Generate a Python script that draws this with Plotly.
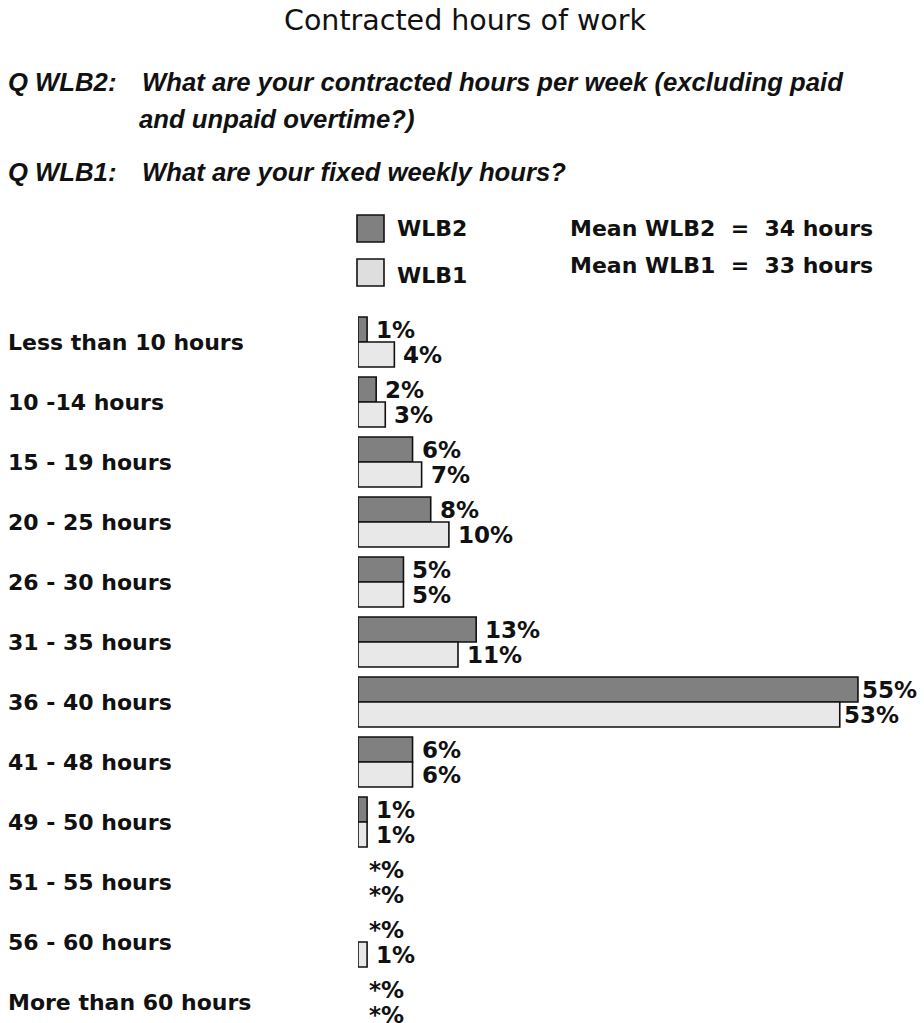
import plotly.graph_objects as go

# ---------------- data ----------------
categories = [
    "Less than 10 hours", "10 -14 hours", "15 - 19 hours", "20 - 25 hours",
    "26 - 30 hours", "31 - 35 hours", "36 - 40 hours", "41 - 48 hours",
    "49 - 50 hours", "51 - 55 hours", "56 - 60 hours", "More than 60 hours",
]
wlb2_values = [1, 2, 6, 8, 5, 13, 55, 6, 1, 0, 0, 0]
wlb1_values = [4, 3, 7, 10, 5, 11, 53, 6, 1, 0, 1, 0]
wlb2_labels = ["1%", "2%", "6%", "8%", "5%", "13%", "55%", "6%", "1%", "*%", "*%", "*%"]
wlb1_labels = ["4%", "3%", "7%", "10%", "5%", "11%", "53%", "6%", "1%", "*%", "1%", "*%"]
series_names = ["WLB2", "WLB1"]
mean_texts = ["Mean WLB2  =  34 hours", "Mean WLB1  =  33 hours"]
title_text = "Contracted hours of work"

# ---------------- geometry ----------------
OFF = 0  # body margin is reset to 0 by the post script below
FIG_W, FIG_H = 924 - OFF, 1023 - OFF
L, T, R, B = 358 - OFF, 312 - OFF, 0, 0
PW = FIG_W - L - R
PH = FIG_H - T - B
PX_PER_PCT = 9.09
ROW_PX = 60

def px_x(px):
    return (px - OFF - L) / PW

def px_y(py):
    return (FIG_H - B - (py - OFF)) / PH

DARK = "#808080"
LIGHT = "#e8e8e8"
EDGE = "#111111"
BOLD = "DejaVu Sans"

# bars of "*%" (< 0.5 %) are not drawn
wlb2_bars = [v if v > 0 else None for v in wlb2_values]
wlb1_bars = [v if v > 0 else None for v in wlb1_values]

fig = go.Figure()
fig.add_trace(go.Bar(
    y=categories, x=wlb2_bars, orientation="h", name=series_names[0],
    marker=dict(color=DARK, line=dict(color=EDGE, width=1.6)),
    showlegend=False, hoverinfo="skip",
))
fig.add_trace(go.Bar(
    y=categories, x=wlb1_bars, orientation="h", name=series_names[1],
    marker=dict(color=LIGHT, line=dict(color=EDGE, width=1.6)),
    showlegend=False, hoverinfo="skip",
))

annotations = []
bar_half = (1 - 1 / 6) / 4  # centre offset of each bar within a group
for i, cat in enumerate(categories):
    for vals, labs, off in ((wlb2_values, wlb2_labels, -bar_half),
                            (wlb1_values, wlb1_labels, bar_half)):
        shift = 9 if vals[i] == 0 else (2 if vals[i] > 50 else 7)
        annotations.append(dict(
            x=vals[i], y=i + off, xref="x", yref="y", text=labs[i],
            xanchor="left", yanchor="middle", xshift=shift,
            showarrow=False,
            font=dict(family=BOLD, size=23, color="#111111", weight="bold"),
        ))
    annotations.append(dict(
        x=px_x(6), y=cat, xref="paper", yref="y", text=cat,
        xanchor="left", yanchor="middle", showarrow=False,
        font=dict(family=BOLD, size=22, color="#111111", weight="bold"),
    ))

# title
annotations.append(dict(
    x=px_x(465), y=px_y(21), xref="paper", yref="paper", text=title_text,
    xanchor="center", yanchor="middle", showarrow=False,
    font=dict(family="DejaVu Sans", size=28.5, color="#111111"),
))

# questions
qfont = dict(family="Liberation Sans", size=25.7, color="#111111", weight="bold", style="italic")
q_items = [
    (6, 82, "Q WLB2:"),
    (140, 82, "What are your contracted hours per week (excluding paid"),
    (137, 119, "and unpaid overtime?)"),
    (6, 172, "Q WLB1:"),
    (140, 172, "What are your fixed weekly hours?"),
]
for x0, y0, txt in q_items:
    annotations.append(dict(
        x=px_x(x0), y=px_y(y0), xref="paper", yref="paper", text=txt,
        xanchor="left", yanchor="middle", showarrow=False, font=qfont,
    ))

# legend
shapes = []
legend_rows = [(215, 242, DARK, series_names[0], 229), (259, 286, "#dedede", series_names[1], 276)]
for y_top, y_bot, col, name, yc in legend_rows:
    shapes.append(dict(
        type="rect", xref="paper", yref="paper",
        x0=px_x(357), x1=px_x(384), y0=px_y(y_bot), y1=px_y(y_top),
        fillcolor=col, line=dict(color=EDGE, width=1.6),
    ))
    annotations.append(dict(
        x=px_x(395), y=px_y(yc), xref="paper", yref="paper", text=name,
        xanchor="left", yanchor="middle", showarrow=False,
        font=dict(family=BOLD, size=22, color="#111111", weight="bold"),
    ))
for txt, yc in zip(mean_texts, (228, 265)):
    annotations.append(dict(
        x=px_x(568), y=px_y(yc), xref="paper", yref="paper", text=txt,
        xanchor="left", yanchor="middle", showarrow=False,
        font=dict(family=BOLD, size=22, color="#111111", weight="bold"),
    ))

fig.update_layout(
    width=FIG_W, height=FIG_H,
    margin=dict(l=L, r=R, t=T, b=B, pad=0),
    paper_bgcolor="white", plot_bgcolor="white",
    barmode="group", bargap=1 / 6, bargroupgap=0,
    xaxis=dict(range=[0, PW / PX_PER_PCT], visible=False, fixedrange=True),
    yaxis=dict(range=[PH / ROW_PX - 0.5, -0.5], visible=False,
               type="category", fixedrange=True),
    annotations=annotations, shapes=shapes,
)

fig.write_html(
    "out.html",
    config={"displayModeBar": False},
    post_script="document.body.style.margin='0';document.body.style.overflow='hidden';",
)
